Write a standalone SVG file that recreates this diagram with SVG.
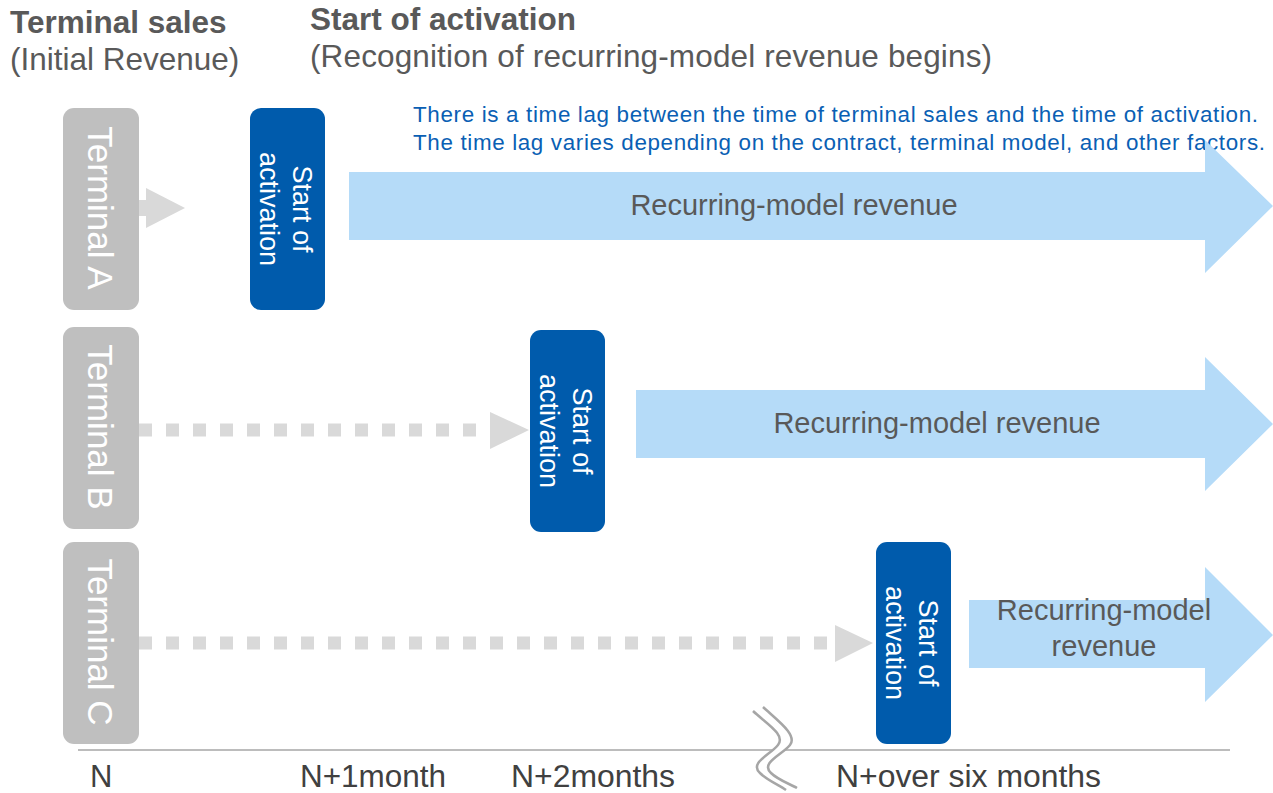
<svg xmlns="http://www.w3.org/2000/svg" width="1273" height="793" viewBox="0 0 1273 793">
<style>
.title{font-family:"Liberation Sans",Arial,sans-serif;font-size:31.5px;fill:#595959}
.bold{font-weight:bold}
.note{font-family:"Liberation Sans",Arial,sans-serif;font-size:22.4px;fill:#0a5fb4}
.term{fill:#bfbfbf}
.termtxt{font-family:"Liberation Sans",Arial,sans-serif;font-size:35px;fill:#ffffff;text-anchor:middle}
.act{fill:#005bac}
.acttxt{font-family:"Liberation Sans",Arial,sans-serif;font-size:27px;fill:#ffffff;text-anchor:middle}
.big{fill:#b5dbf8}
.bigtxt{font-family:"Liberation Sans",Arial,sans-serif;font-size:29px;fill:#595959;text-anchor:middle}
.dash{stroke:#d9d9d9;stroke-width:13;stroke-dasharray:13 14;fill:none}
.gray{fill:#d9d9d9}
.axis{font-family:"Liberation Sans",Arial,sans-serif;font-size:31px;fill:#404040}
</style>
<rect width="1273" height="793" fill="#ffffff"/>
<g id="headers">
<text class="title bold" x="10" y="33">Terminal sales</text>
<text class="title" x="10" y="70">(Initial Revenue)</text>
<text class="title bold" x="310" y="30">Start of activation</text>
<text class="title" x="310" y="67" textLength="682">(Recognition of recurring-model revenue begins)</text>
</g>
<g id="note">
<text class="note" x="413" y="122" textLength="845">There is a time lag between the time of terminal sales and the time of activation.</text>
<text class="note" x="413" y="150" textLength="852">The time lag varies depending on the contract, terminal model, and other factors.</text>
</g>
<g id="connectors">
<rect class="gray" x="139" y="200" width="9" height="16"/>
<polygon class="gray" points="146,188 185,208 146,228"/>
<line class="dash" x1="139" y1="430" x2="492" y2="430"/>
<polygon class="gray" points="490,412 529,430 490,449"/>
<line class="dash" x1="139" y1="643" x2="838" y2="643"/>
<polygon class="gray" points="835,625 873,643 835,662"/>
</g>
<g id="revenueA">
<polygon class="big" points="349,172 1205,172 1205,140 1273,206 1205,273 1205,240 349,240"/>
<text class="bigtxt" x="794" y="215">Recurring-model revenue</text>
</g>
<g id="revenueB">
<polygon class="big" points="636,390 1205,390 1205,357 1273,424 1205,491 1205,458 636,458"/>
<text class="bigtxt" x="937" y="433">Recurring-model revenue</text>
</g>
<g id="revenueC">
<polygon class="big" points="969,600 1205,600 1205,567 1273,635 1205,702 1205,668 969,668"/>
<text class="bigtxt" x="1104" y="620">Recurring-model</text>
<text class="bigtxt" x="1104" y="656">revenue</text>
</g>
<g id="terminalA">
<rect class="term" x="63" y="108" width="76" height="202" rx="11"/>
<text class="termtxt" transform="translate(101,208) rotate(90)" y="13">Terminal A</text>
</g>
<g id="terminalB">
<rect class="term" x="63" y="327" width="76" height="202" rx="11"/>
<text class="termtxt" transform="translate(101,427) rotate(90)" y="13">Terminal B</text>
</g>
<g id="terminalC">
<rect class="term" x="63" y="542" width="76" height="202" rx="11"/>
<text class="termtxt" transform="translate(101,642) rotate(90)" y="13">Terminal C</text>
</g>
<g id="activationA">
<rect class="act" x="250" y="108" width="75" height="202" rx="11"/>
<text class="acttxt" transform="translate(287.5,209) rotate(90)"><tspan x="0" y="-5.5">Start of</tspan><tspan x="0" y="27.5">activation</tspan></text>
</g>
<g id="activationB">
<rect class="act" x="530" y="330" width="75" height="202" rx="11"/>
<text class="acttxt" transform="translate(567.5,431) rotate(90)"><tspan x="0" y="-5.5">Start of</tspan><tspan x="0" y="27.5">activation</tspan></text>
</g>
<g id="activationC">
<rect class="act" x="876" y="542" width="75" height="202" rx="11"/>
<text class="acttxt" transform="translate(913.5,643) rotate(90)"><tspan x="0" y="-5.5">Start of</tspan><tspan x="0" y="27.5">activation</tspan></text>
</g>
<g id="axis">
<line x1="78" y1="750" x2="1230" y2="750" stroke="#a6a6a6" stroke-width="1.5"/>
<path d="M758,709 C772,722 792,735 784,745 C776,755 754,763 765,773 C772,780 784,784 791,788" fill="none" stroke="#ffffff" stroke-width="9"/>
<path d="M753,711 C767,724 786,735 778,745 C770,755 749,763 760,773 C767,780 779,785 786,790" fill="none" stroke="#a6a6a6" stroke-width="2.5"/>
<path d="M763,707 C777,720 798,735 790,745 C782,755 760,763 771,773 C778,780 790,784 797,788" fill="none" stroke="#a6a6a6" stroke-width="2.5"/>
<text class="axis" x="90" y="787">N</text>
<text class="axis" x="300" y="787" textLength="146" lengthAdjust="spacingAndGlyphs">N+1month</text>
<text class="axis" x="511" y="787" textLength="164" lengthAdjust="spacingAndGlyphs">N+2months</text>
<text class="axis" x="836" y="787" textLength="265" lengthAdjust="spacingAndGlyphs">N+over six months</text>
</g>
</svg>
